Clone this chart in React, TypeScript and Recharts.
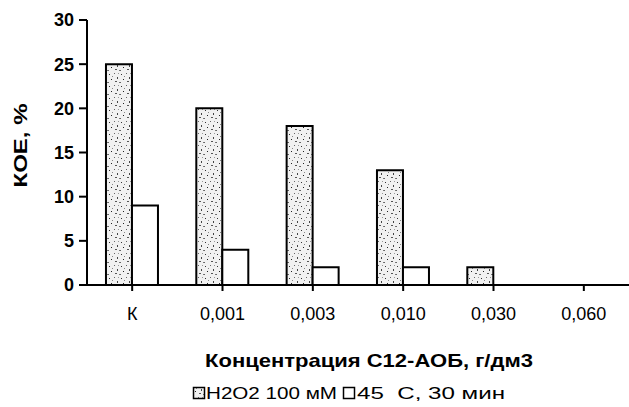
import React from 'react';
import { BarChart, Bar, XAxis, YAxis, Label } from 'recharts';

const categories = ['К', '0,001', '0,003', '0,010', '0,030', '0,060'];
const h2o2Values = [25, 20, 18, 13, 2, 0];
const heatValues = [9, 4, 2, 2, 0, 0];
const yTicks = [0, 5, 10, 15, 20, 25, 30];

const h2o2Name = 'H2O2 100 мМ';
const heatName = '45  С, 30 мин';

const data = categories.map((c, i) => ({ cat: c, h2o2: h2o2Values[i], heat: heatValues[i] }));

const FONT = "'Liberation Sans', Arial, sans-serif";

function StipplePattern() {
  return (
    <svg width={0} height={0} style={{ position: 'absolute' }}>
      <defs>
        <pattern id="stipple" width={12} height={12} patternUnits="userSpaceOnUse">
          <rect width={12} height={12} fill="#f1f1f1" />
          <rect x={1} y={2} width={1} height={1} fill="#333" />
          <rect x={6} y={1} width={1} height={1} fill="#666" />
          <rect x={9} y={5} width={1} height={2} fill="#444" />
          <rect x={3} y={7} width={1} height={1} fill="#222" />
          <rect x={7} y={9} width={2} height={1} fill="#555" />
          <rect x={11} y={10} width={1} height={1} fill="#777" />
          <rect x={4} y={4} width={1} height={1} fill="#888" />
          <rect x={0} y={10} width={1} height={1} fill="#666" />
          <rect x={10} y={1} width={1} height={1} fill="#999" />
        </pattern>
      </defs>
    </svg>
  );
}

function LegendRow() {
  return (
    <svg width={629} height={407} style={{ position: 'absolute', left: 0, top: 0, pointerEvents: 'none' }}>
      <rect x={193.5} y={387.5} width={11} height={11} fill="url(#stipple)" stroke="#000" strokeWidth={1.5} />
      <text x={206} y={399} fontFamily={FONT} fontSize={16} fill="#000" textLength={131} lengthAdjust="spacingAndGlyphs">
        {h2o2Name}
      </text>
      <rect x={343.5} y={387.5} width={11} height={11} fill="#fff" stroke="#000" strokeWidth={1.5} />
      <text
        x={357}
        y={399}
        fontFamily={FONT}
        fontSize={16}
        fill="#000"
        textLength={148}
        lengthAdjust="spacingAndGlyphs"
        style={{ whiteSpace: 'pre' }}
      >
        {heatName}
      </text>
    </svg>
  );
}

export default function App() {
  return (
    <div style={{ position: 'absolute', left: 0, top: 0, width: 629, height: 407, background: '#fff' }}>
      <StipplePattern />
      <BarChart
        width={629}
        height={407}
        data={data}
        margin={{ top: 20, right: 0, left: 0, bottom: 0 }}
        barCategoryGap="21%"
        barGap={0}
      >
        <XAxis
          dataKey="cat"
          height={122}
          stroke="#000"
          strokeWidth={2}
          tickSize={6}
          tick={{ fontSize: 18, fill: '#000', fontFamily: FONT }}
          tickMargin={16}
        >
          <Label
            content={({ viewBox }: any) => (
              <text
                x={viewBox.x + viewBox.width / 2 + 11}
                y={viewBox.y + 82}
                textAnchor="middle"
                fontFamily={FONT}
                fontWeight="bold"
                fontSize={19}
                textLength={328}
                lengthAdjust="spacingAndGlyphs"
                fill="#000"
              >
                Концентрация С12-АОБ, г/дм3
              </text>
            )}
          />
        </XAxis>
        <YAxis
          width={87}
          domain={[0, 30]}
          ticks={yTicks}
          interval={0}
          stroke="#000"
          strokeWidth={2}
          tickSize={8}
          tickMargin={5}
          tick={{ fontSize: 18, fontWeight: 'bold', fill: '#000', fontFamily: FONT }}
        >
          <Label
            content={({ viewBox }: any) => {
              const cy = viewBox.y + viewBox.height / 2 - 7;
              return (
                <text
                  x={27}
                  y={cy}
                  transform={`rotate(-90, 27, ${cy})`}
                  textAnchor="middle"
                  fontFamily={FONT}
                  fontWeight="bold"
                  fontSize={19}
                  textLength={84}
                  lengthAdjust="spacingAndGlyphs"
                  fill="#000"
                >
                  КОЕ, %
                </text>
              );
            }}
          />
        </YAxis>
        <Bar dataKey="h2o2" fill="url(#stipple)" stroke="#000" strokeWidth={2} isAnimationActive={false} />
        <Bar dataKey="heat" fill="#fff" stroke="#000" strokeWidth={2} isAnimationActive={false} />
      </BarChart>
      <LegendRow />
    </div>
  );
}
